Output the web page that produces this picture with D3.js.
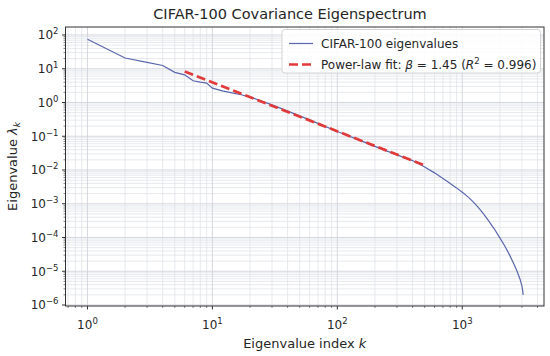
<!DOCTYPE html>
<html><head><meta charset="utf-8">
<script src="https://cdn.jsdelivr.net/npm/d3@7"></script>
<style>body{margin:0;background:#fff}svg{font-family:"DejaVu Sans",sans-serif}</style>
</head><body><svg id="c" width="550" height="356"></svg>
<script>
// Eigenvalue spectrum
const eigK = [1,2,3,4,5,6,7,8,9,10,12,14,17,20,30,50,70,100,150,200,300,400,500,600,750,900,1000,1100,1200,1300,1400,1500,1600,1800,2000,2200,2400,2600,2750,2900,3000,3040,3072];
const eigV = [75,20.8,15.5,12.5,7.8,6.6,4.4,4.0,3.77,2.67,2.2,1.95,1.7,1.45,0.85,0.40,0.24,0.138,0.077,0.050,0.028,0.019,0.0123,0.00822,0.00473,0.00295,0.00219,0.00165,0.00122,0.000893,0.00065,0.00047,0.00034,0.000181,0.0000977,0.000054,0.0000295,0.0000158,0.00000986,0.00000581,0.00000371,0.00000275,0.000002];
// Power-law fit endpoints
const fitK = [6, 500];
const fitV = [8.32, 0.0136];
const xTicks = [1,10,100,1000];
const xTickExp = ["0","1","2","3"];
const yTicks = [1e2,1e1,1e0,1e-1,1e-2,1e-3,1e-4,1e-5,1e-6];
const yTickExp = ["2","1","0","−1","−2","−3","−4","−5","−6"];
const titleText = "CIFAR-100 Covariance Eigenspectrum";
const seriesNames = ["CIFAR-100 eigenvalues","Power-law fit"];

const svg = d3.select("#c");
const L=65.5, R=544, T=27, B=306;
const x = d3.scaleLog().domain([0.667,4510]).range([L,R]);
const y = d3.scaleLog().domain([Math.pow(10,-6.03),Math.pow(10,2.237)]).range([B,T]);

// minor ticks
const xMinor=[], yMinor=[];
for (let e=-1;e<=3;e++) for (let m=2;m<=9;m++){const v=m*Math.pow(10,e); if(v>0.667&&v<4510) xMinor.push(v);}
for (let e=-7;e<=2;e++) for (let m=2;m<=9;m++){const v=m*Math.pow(10,e); if(y(v)>=T&&y(v)<=B) yMinor.push(v);}

const g = svg.append("g");
g.selectAll(".xm").data(xMinor).enter().append("line")
 .attr("x1",d=>x(d)).attr("x2",d=>x(d)).attr("y1",T).attr("y2",B)
 .attr("stroke","#e0e3e8").attr("stroke-width",0.8);
g.selectAll(".ym").data(yMinor).enter().append("line")
 .attr("y1",d=>y(d)).attr("y2",d=>y(d)).attr("x1",L).attr("x2",R)
 .attr("stroke","#e0e3e8").attr("stroke-width",0.8);
g.selectAll(".xM").data(xTicks).enter().append("line")
 .attr("x1",d=>x(d)).attr("x2",d=>x(d)).attr("y1",T).attr("y2",B)
 .attr("stroke","#d0d4da").attr("stroke-width",0.9);
g.selectAll(".yM").data(yTicks).enter().append("line")
 .attr("y1",d=>y(d)).attr("y2",d=>y(d)).attr("x1",L).attr("x2",R)
 .attr("stroke","#d0d4da").attr("stroke-width",0.9);

// lines
const line = d3.line().x(d=>x(d[0])).y(d=>y(d[1]));
svg.append("path").datum(eigK.map((k,i)=>[k,eigV[i]]))
 .attr("d",line).attr("fill","none").attr("stroke","#5b67ad").attr("stroke-width",1.2);
svg.append("path").datum(fitK.map((k,i)=>[k,fitV[i]]))
 .attr("d",line).attr("fill","none").attr("stroke","#e03a3a").attr("stroke-width",2.7)
 .attr("stroke-dasharray","9,4");

// axes frame
svg.append("rect").attr("x",L).attr("y",T).attr("width",R-L).attr("height",B-T)
 .attr("fill","none").attr("stroke","#333").attr("stroke-width",1);

// ticks
const ax = svg.append("g");
ax.selectAll(".xt").data(xTicks).enter().append("line")
 .attr("x1",d=>x(d)).attr("x2",d=>x(d)).attr("y1",B).attr("y2",B+3.5).attr("stroke","#333");
ax.selectAll(".xtm").data(xMinor).enter().append("line")
 .attr("x1",d=>x(d)).attr("x2",d=>x(d)).attr("y1",B).attr("y2",B+2).attr("stroke","#333").attr("stroke-width",0.6);
ax.selectAll(".yt").data(yTicks).enter().append("line")
 .attr("y1",d=>y(d)).attr("y2",d=>y(d)).attr("x1",L).attr("x2",L-3.5).attr("stroke","#333");
ax.selectAll(".ytm").data(yMinor).enter().append("line")
 .attr("y1",d=>y(d)).attr("y2",d=>y(d)).attr("x1",L).attr("x2",L-2).attr("stroke","#333").attr("stroke-width",0.6);

const xl = ax.selectAll(".xl").data(xTicks).enter().append("text")
 .attr("x",d=>x(d)).attr("y",B+23).attr("text-anchor","middle").attr("font-size",12).attr("fill","#262626");
xl.append("tspan").text("10");
xl.append("tspan").attr("dy",-5).attr("font-size",8.5).text((d,i)=>xTickExp[i]);

const yl = ax.selectAll(".yl").data(yTicks).enter().append("text")
 .attr("x",L-7).attr("y",d=>y(d)+4.5).attr("text-anchor","end").attr("font-size",12).attr("fill","#262626");
yl.append("tspan").text("10");
yl.append("tspan").attr("dy",-5).attr("font-size",8.5).text((d,i)=>yTickExp[i]);

// title & labels
svg.append("text").attr("x",290).attr("y",19).attr("text-anchor","middle")
 .attr("font-size",14.5).attr("fill","#262626").text(titleText);
const xlab = svg.append("text").attr("x",(L+R)/2).attr("y",348).attr("text-anchor","middle")
 .attr("font-size",13).attr("fill","#262626");
xlab.append("tspan").text("Eigenvalue index ");
xlab.append("tspan").attr("font-style","italic").text("k");
const ylab = svg.append("text").attr("transform",`translate(17,${(T+B)/2}) rotate(-90)`)
 .attr("text-anchor","middle").attr("font-size",13).attr("fill","#262626");
ylab.append("tspan").text("Eigenvalue ");
ylab.append("tspan").attr("font-style","italic").text("λ");
ylab.append("tspan").attr("font-style","italic").attr("font-size",9).attr("dy",3).text("k");

// legend
const lg = svg.append("g");
lg.append("rect").attr("x",282).attr("y",29.5).attr("width",258.5).attr("height",43.5).attr("rx",3)
 .attr("fill","#fff").attr("fill-opacity",0.85).attr("stroke","#cfcfcf").attr("stroke-width",0.9);
lg.append("line").attr("x1",289).attr("x2",313).attr("y1",43.5).attr("y2",43.5)
 .attr("stroke","#5b67ad").attr("stroke-width",1.2);
lg.append("line").attr("x1",289).attr("x2",313).attr("y1",64.5).attr("y2",64.5)
 .attr("stroke","#e03a3a").attr("stroke-width",2.7).attr("stroke-dasharray","9,4");
lg.append("text").attr("x",321).attr("y",48).attr("font-size",12).attr("fill","#262626").text(seriesNames[0]);
const t2 = lg.append("text").attr("x",321).attr("y",69).attr("font-size",12).attr("fill","#262626");
t2.append("tspan").text(seriesNames[1]+": ");
t2.append("tspan").attr("font-style","italic").text("β");
t2.append("tspan").text(" = 1.45 (");
t2.append("tspan").attr("font-style","italic").text("R");
t2.append("tspan").attr("dy",-5).attr("font-size",8.5).text("2");
t2.append("tspan").attr("dy",5).text(" = 0.996)");
</script></body></html>
